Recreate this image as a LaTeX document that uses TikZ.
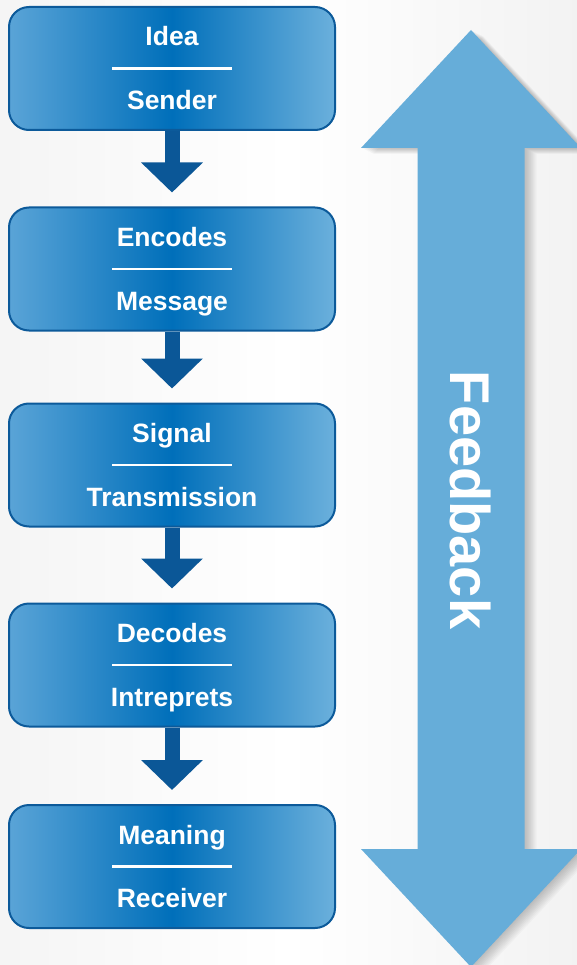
\documentclass[tikz,border=0pt]{standalone}
\usepackage{fontspec}
\setmainfont{Liberation Sans}
\usetikzlibrary{arrows.meta}

\definecolor{boxedge}{HTML}{0C5A9A}
\definecolor{boxdark}{HTML}{006FBA}
\definecolor{boxleft}{HTML}{5AA4D7}
\definecolor{boxright}{HTML}{6BB0DC}
\definecolor{arrowdark}{HTML}{0B5797}
\definecolor{feedfill}{HTML}{66ADD9}

\tikzset{
  stagebox/.style={draw=boxedge, line width=2pt, rounded corners=20pt,
    left color=boxleft, right color=boxright, middle color=boxdark,
    minimum width=326pt, minimum height=123pt, inner sep=0pt},
  stagetext/.style={text=white, font=\fontsize{26.5}{30}\selectfont\bfseries, anchor=base},
  divider/.style={white, line width=2.5pt},
  flowarrow/.style={arrowdark, line width=15pt, shorten >=14pt,
    -{Triangle[width=60pt,length=30pt]}}
}

\begin{document}
\begin{tikzpicture}[x=1pt,y=-1pt]
  \fill[left color=black!4, right color=black!5, middle color=white] (0,0) rectangle (577,965);
  \useasboundingbox (0,0) rectangle (577,965);

  % the five stages
  \foreach \name/\ypos/\toptext/\bottext in {idea/68.5/Idea/Sender,
      encodes/269/Encodes/Message, signal/465/Signal/Transmission,
      decodes/665/Decodes/Intreprets, meaning/866.5/Meaning/Receiver}{
    \node[stagebox] (\name) at (172,\ypos) {};
    \node[stagetext] at ([yshift=22.5pt]\name.center) {\toptext};
    \node[stagetext] at ([yshift=-41pt]\name.center) {\bottext};
    \draw[divider] ([xshift=-60pt]\name.center) -- ([xshift=60pt]\name.center);
  }

  \foreach \a/\b in {idea/encodes, encodes/signal, signal/decodes, decodes/meaning}
    \draw[flowarrow] (\a.south) -- (\b.north);

  % feedback arrow with a soft shadow
  \foreach \s in {2,4,...,20}
    \fill[black, opacity=0.022, xshift=0.6*\s pt, yshift=-0.3*\s pt]
      (471,30) -- (581,148) -- (524.5,148) -- (524.5,849) -- (581,849)
      -- (471,967) -- (361,849) -- (417.5,849) -- (417.5,148) -- (361,148) -- cycle;
  \fill[feedfill] (471,30) -- (581,148) -- (524.5,148) -- (524.5,849) -- (581,849)
    -- (471,967) -- (361,849) -- (417.5,849) -- (417.5,148) -- (361,148) -- cycle;
  \node[text=white, font=\fontsize{56}{60}\selectfont\bfseries, rotate=-90] (feedback)
    at (471,500) {Feedback};
\end{tikzpicture}
\end{document}
